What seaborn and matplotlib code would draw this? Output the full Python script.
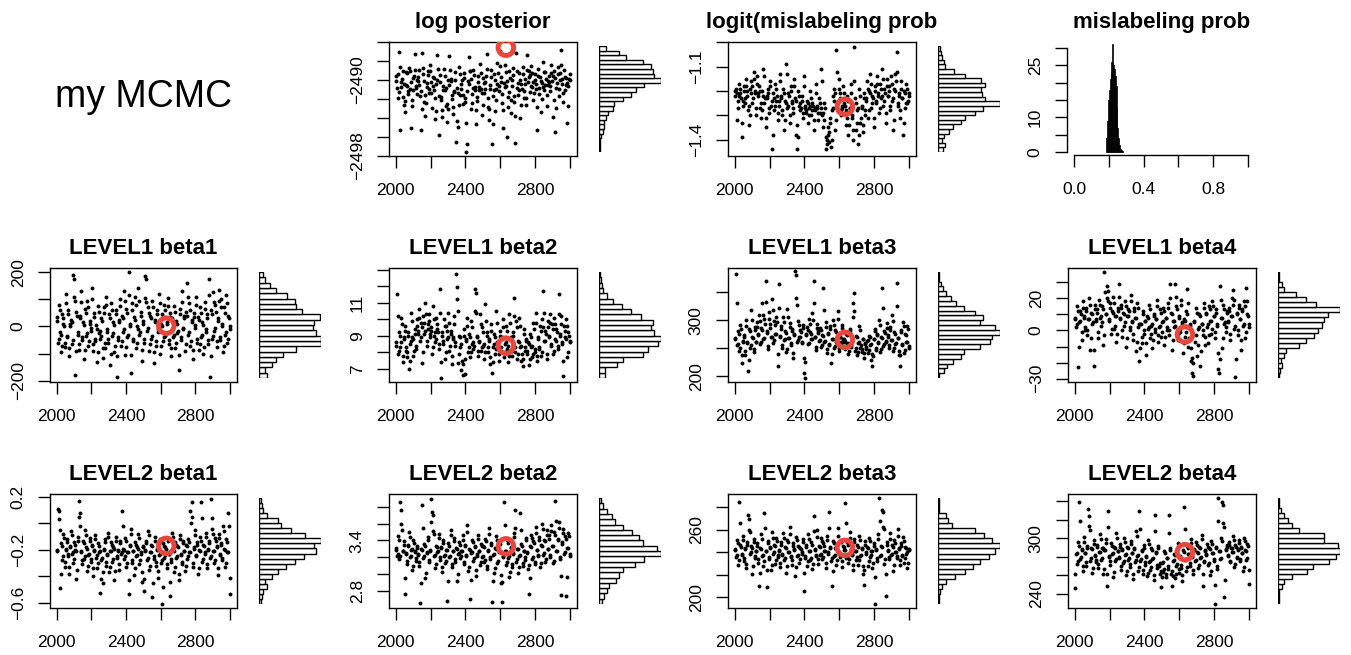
import numpy as np
import matplotlib
matplotlib.use("Agg")
import matplotlib.pyplot as plt
import seaborn as sns

sns.set_theme(style="white")
plt.rcParams['font.family'] = ['Liberation Sans', 'DejaVu Sans']
plt.rcParams.update({'text.color': 'black', 'axes.labelcolor': 'black',
                     'xtick.color': 'black', 'ytick.color': 'black'})

# ---- data (MCMC traces, iterations 2001-3000) ----
# each trace is kept as two thinned halves (a: every ~6th draw, b: the draws in between)
log_post_a = [
    -2489.6, -2490.8, -2491.9, -2487.1, -2495.3, -2490.2, -2489.1, -2492.6, -2493.4, -2490.5,
    -2489.3, -2491.2, -2488.7, -2490.9, -2495.1, -2492.1, -2489.8, -2487.3, -2490.6, -2491.5,
    -2490.1, -2488.9, -2491.7, -2495.3, -2487.2, -2489.4, -2492.3, -2493.8, -2490.7, -2489.0,
    -2491.4, -2488.4, -2490.2, -2492.9, -2489.7, -2491.0, -2494.1, -2490.4, -2487.4, -2495.8,
    -2489.5, -2491.8, -2493.2, -2490.6, -2488.8, -2491.1, -2492.7, -2494.4, -2490.0, -2487.5,
    -2489.9, -2492.0, -2493.6, -2491.3, -2489.2, -2496.5, -2490.8, -2494.9, -2488.6, -2491.6,
    -2490.4, -2492.5, -2489.3, -2491.9, -2497.6, -2496.7, -2490.1, -2487.6, -2489.0, -2493.1,
    -2491.5, -2488.9, -2490.7, -2494.6, -2492.2, -2489.6, -2491.0, -2488.3, -2490.9, -2493.7,
    -2489.8, -2491.4, -2490.2, -2487.3, -2492.8, -2494.2, -2490.5, -2488.9, -2496.7, -2491.7,
    -2489.4, -2493.3, -2490.9, -2488.2, -2491.2, -2486.9, -2489.7, -2492.4, -2495.0, -2490.3,
    -2488.4, -2490.6, -2496.0, -2491.8, -2489.1, -2493.5, -2490.0, -2488.7, -2492.3, -2496.6,
    -2487.2, -2490.8, -2491.6, -2489.3, -2494.0, -2490.4, -2488.6, -2491.9, -2489.9, -2492.6,
    -2487.4, -2490.2, -2489.0, -2491.3, -2488.5, -2490.7, -2492.1, -2489.4, -2490.9, -2495.3,
    -2488.8, -2491.5, -2489.7, -2493.4, -2490.3, -2488.1, -2491.0, -2489.2, -2492.7, -2490.5,
    -2489.6, -2491.2, -2488.4, -2490.1, -2493.9, -2489.0, -2495.5, -2490.8, -2488.6, -2491.7,
    -2489.3, -2486.8, -2490.4, -2492.3, -2488.9, -2491.0, -2489.8, -2494.5, -2490.6, -2489.4,
]
log_post_b = [
    -2490.1, -2489.4, -2491.3, -2488.6, -2490.7, -2489.9, -2491.8, -2490.4, -2492.2, -2489.2,
    -2490.6, -2491.5, -2489.0, -2490.2, -2492.7, -2491.1, -2489.6, -2488.9, -2490.8, -2490.0,
    -2489.7, -2490.5, -2491.2, -2493.1, -2488.7, -2490.1, -2491.6, -2492.4, -2490.3, -2489.5,
    -2490.9, -2489.1, -2491.4, -2490.6, -2489.8, -2491.9, -2493.3, -2490.0, -2488.8, -2491.7,
    -2490.2, -2492.1, -2493.9, -2491.0, -2489.6, -2490.8, -2492.5, -2493.0, -2490.5, -2488.9,
    -2490.1, -2491.6, -2492.8, -2491.2, -2490.0, -2494.3, -2491.4, -2492.6, -2489.4, -2490.9,
    -2490.0, -2491.6, -2489.8, -2492.3, -2494.5, -2491.2, -2490.4, -2489.1, -2489.9, -2492.4,
    -2490.8, -2489.5, -2491.1, -2493.2, -2491.8, -2490.2, -2490.7, -2489.3, -2491.4, -2492.6,
    -2490.3, -2490.9, -2489.6, -2488.8, -2491.9, -2493.0, -2490.9, -2489.7, -2494.6, -2491.1,
    -2490.0, -2492.1, -2490.4, -2489.3, -2490.6, -2488.5, -2490.2, -2491.5, -2493.2, -2490.7,
    -2489.2, -2490.1, -2492.8, -2491.3, -2489.8, -2492.1, -2490.6, -2489.5, -2491.7, -2493.8,
    -2489.0, -2490.3, -2491.0, -2490.0, -2492.6, -2490.9, -2489.4, -2491.2, -2490.4, -2491.9,
    -2488.9, -2489.7, -2489.5, -2490.6, -2489.3, -2490.2, -2491.4, -2490.0, -2490.4, -2492.8,
    -2489.6, -2490.8, -2490.1, -2492.0, -2490.7, -2489.2, -2490.5, -2489.9, -2491.6, -2490.1,
    -2490.2, -2490.6, -2489.3, -2489.6, -2492.1, -2489.8, -2492.9, -2490.3, -2489.4, -2490.9,
    -2490.0, -2488.4, -2489.9, -2491.4, -2489.7, -2490.5, -2490.3, -2492.7, -2489.9, -2490.0,
]
logit_mis_a = [
    -1.22, -1.19, -1.32, -1.24, -1.17, -1.21, -1.39, -1.26, -1.18, -1.23,
    -1.15, -1.20, -1.28, -1.34, -1.19, -1.16, -1.25, -1.12, -1.21, -1.30,
    -1.14, -1.22, -1.18, -1.27, -1.31, -1.20, -1.11, -1.25, -1.35, -1.23,
    -1.19, -1.29, -1.16, -1.26, -1.44, -1.21, -1.28, -1.17, -1.24, -1.32,
    -1.26, -1.13, -1.22, -1.30, -1.19, -1.36, -1.24, -1.09, -1.27, -1.21,
    -1.33, -1.18, -1.25, -1.29, -1.15, -1.23, -1.38, -1.44, -1.20, -1.26,
    -1.28, -1.22, -1.31, -1.14, -1.26, -1.29, -1.24, -1.33, -1.27, -1.20,
    -1.30, -1.25, -1.36, -1.28, -1.17, -1.26, -1.32, -1.23, -1.29, -1.11,
    -1.30, -1.35, -1.25, -1.44, -1.42, -1.38, -1.41, -1.33, -1.43, -1.28,
    -1.22, -1.19, -1.36, -1.03, -1.24, -1.15, -1.21, -1.30, -1.26, -1.18,
    -1.25, -1.29, -1.34, -1.22, -1.38, -1.27, -1.17, -1.31, -1.40, -1.02,
    -1.23, -1.36, -1.28, -1.42, -1.19, -1.33, -1.26, -1.37, -1.21, -1.30,
    -1.24, -1.16, -1.31, -1.20, -1.13, -1.27, -1.22, -1.35, -1.18, -1.25,
    -1.14, -1.21, -1.29, -1.17, -1.23, -1.11, -1.26, -1.19, -1.33, -1.15,
    -1.22, -1.18, -1.28, -1.14, -1.24, -1.36, -1.19, -1.13, -1.04, -1.26,
    -1.21, -1.31, -1.16, -1.23, -1.38, -1.20, -1.27, -1.17, -1.25, -1.21,
]
logit_mis_b = [
    -1.20, -1.21, -1.27, -1.22, -1.19, -1.23, -1.33, -1.24, -1.20, -1.25,
    -1.18, -1.22, -1.26, -1.30, -1.21, -1.18, -1.23, -1.15, -1.20, -1.27,
    -1.17, -1.21, -1.20, -1.25, -1.28, -1.22, -1.14, -1.23, -1.31, -1.22,
    -1.21, -1.27, -1.18, -1.24, -1.38, -1.23, -1.26, -1.19, -1.22, -1.29,
    -1.24, -1.16, -1.23, -1.28, -1.21, -1.32, -1.25, -1.13, -1.26, -1.22,
    -1.30, -1.20, -1.24, -1.27, -1.18, -1.24, -1.34, -1.39, -1.22, -1.25,
    -1.27, -1.24, -1.29, -1.18, -1.27, -1.28, -1.25, -1.30, -1.26, -1.23,
    -1.28, -1.26, -1.32, -1.27, -1.21, -1.27, -1.29, -1.25, -1.27, -1.16,
    -1.29, -1.32, -1.27, -1.39, -1.40, -1.35, -1.37, -1.31, -1.40, -1.27,
    -1.24, -1.21, -1.32, -1.12, -1.25, -1.19, -1.23, -1.28, -1.27, -1.21,
    -1.26, -1.28, -1.31, -1.24, -1.34, -1.27, -1.21, -1.30, -1.36, -1.16,
    -1.25, -1.33, -1.27, -1.38, -1.22, -1.31, -1.27, -1.34, -1.23, -1.28,
    -1.23, -1.19, -1.28, -1.21, -1.17, -1.25, -1.23, -1.31, -1.20, -1.24,
    -1.17, -1.22, -1.27, -1.19, -1.22, -1.15, -1.24, -1.21, -1.29, -1.18,
    -1.22, -1.20, -1.26, -1.17, -1.23, -1.32, -1.20, -1.16, -1.12, -1.25,
    -1.22, -1.28, -1.19, -1.23, -1.33, -1.21, -1.25, -1.19, -1.24, -1.22,
]
l1_beta1_a = [
    35, -60, 80, -20, -95, 45, 10, -75, 120, -40, 60, -110, 0, 25, -65, 190, 175, -178, 55, -30,
    -85, 40, 130, -50, 15, -120, 65, -35, 95, -70, 20, -15, 140, -90, 50, -55, 5, -130, 75, -25,
    -45, 30, -115, 70, -80, 110, -10, -60, 45, -140, 85, -35, 15, -95, 60, -185, -50, 25, 100, -70,
    40, -20, 130, -105, 65, -40, 200, 10, -170, 85, -55, 35, 110, -80, 0, 140, -30, 55, -125, 20,
    -60, 185, 175, -15, 70, -90, 40, -45, 95, -135, 25, -70, 60, -20, 120, -100, 10, 45, -55, 80,
    -35, 15, 105, -65, 50, -110, 30, -40, 75, -80, 20, -25, -160, 65, -50, 130, -10, 40, -90, 55,
    160, -30, 85, -70, 25, -120, 50, -5, 110, -60, 35, -85, 70, -40, 15, -100, 90, -20, 45, -65,
    176, -185, 60, -45, 125, -15, 80, -75, 30, 135, -50, 100, 10, -95, 70, -30, 115, -60, 40, -10,
]
l1_beta1_b = [
    20, -45, 60, -30, -70, 30, 0, -60, 85, -35, 45, -80, 10, 15, -50, 110, 95, -90, 40, -20,
    -65, 30, 90, -40, 5, -85, 50, -25, 70, -55, 10, -5, 100, -65, 35, -45, -10, -95, 55, -15,
    -35, 20, -80, 50, -60, 80, -20, -45, 30, -100, 60, -25, 5, -70, 45, -110, -40, 15, 75, -55,
    30, -10, 95, -75, 50, -30, 115, 0, -105, 60, -45, 25, 80, -60, -10, 95, -20, 40, -85, 10,
    -45, 105, 90, -5, 50, -65, 30, -35, 70, -95, 15, -55, 45, -10, 85, -70, 0, 35, -40, 60,
    -25, 10, 75, -50, 35, -80, 20, -30, 55, -60, 10, -15, -105, 45, -40, 90, -5, 30, -65, 40,
    110, -20, 60, -55, 15, -85, 35, 5, 80, -45, 25, -65, 50, -30, 5, -75, 65, -10, 30, -50,
    115, -110, 45, -35, 90, -5, 55, -55, 20, 95, -40, 70, 0, -70, 50, -20, 85, -45, 30, 0,
]
l1_beta2_a = [
    8.6, 11.5, 7.9, 9.2, 8.3, 10.1, 7.4, 8.8, 9.6, 8.1, 7.7, 9.0, 6.96, 8.5, 10.4, 8.9, 7.8, 9.4, 8.2, 10.0,
    9.3, 10.6, 8.7, 9.8, 7.36, 10.2, 9.1, 11.0, 8.4, 9.7, 10.3, 8.9, 9.5, 7.9, 10.8, 9.0, 8.6, 10.1, 9.4, 8.2,
    11.8, 6.46, 9.2, 8.5, 10.0, 7.6, 9.6, 8.8, 10.4, 8.1, 9.3, 7.3, 8.9, 10.2, 8.4, 12.76, 11.96, 7.36, 9.0, 8.3,
    6.9, 6.6, 9.4, 6.66, 8.7, 10.1, 8.0, 9.1, 7.7, 9.9, 8.5, 8.2, 11.8, 11.6, 9.0, 7.8, 8.6, 10.3, 8.1, 9.5,
    8.4, 7.6, 10.9, 9.2, 8.0, 8.8, 7.3, 9.7, 6.76, 8.3, 9.1, 7.9, 10.5, 8.6, 7.5, 9.3, 8.1, 8.9, 10.0, 7.7,
    8.5, 9.6, 8.2, 7.4, 10.3, 8.9, 7.8, 9.2, 11.3, 8.0, 9.9, 7.6, 8.7, 10.1, 8.3, 7.5, 7.16, 9.4, 8.1, 8.8,
    7.9, 8.6, 7.2, 9.1, 8.3, 7.7, 9.8, 8.0, 10.4, 7.5, 8.9, 8.2, 9.6, 7.8, 10.0, 11.7, 8.7, 9.3, 7.6, 9.9,
    9.0, 10.3, 8.4, 9.7, 7.9, 10.1, 8.8, 9.4, 8.2, 11.5, 9.1, 10.2, 8.5, 6.56, 9.6, 8.9, 10.0, 7.7, 9.2, 8.6,
]
l1_beta2_b = [
    8.4, 10.2, 8.1, 9.0, 8.6, 9.7, 7.8, 8.9, 9.3, 8.3, 8.0, 9.2, 7.5, 8.7, 9.9, 8.8, 8.1, 9.1, 8.4, 9.6,
    9.1, 10.1, 8.9, 9.5, 8.0, 9.8, 9.3, 10.3, 8.7, 9.4, 9.9, 9.1, 9.3, 8.3, 10.0, 9.2, 8.8, 9.7, 9.2, 8.5,
    10.4, 7.4, 9.0, 8.7, 9.6, 8.0, 9.3, 8.9, 9.8, 8.4, 9.1, 7.8, 8.8, 9.7, 8.6, 11.2, 10.5, 7.9, 8.9, 8.5,
    7.5, 7.3, 9.0, 7.6, 8.8, 9.6, 8.3, 8.9, 8.0, 9.5, 8.6, 8.4, 10.5, 10.4, 8.9, 8.1, 8.7, 9.7, 8.3, 9.2,
    8.5, 8.0, 9.9, 9.0, 8.3, 8.7, 7.7, 9.3, 7.4, 8.5, 8.9, 8.2, 9.8, 8.6, 7.9, 9.0, 8.3, 8.8, 9.5, 8.0,
    8.6, 9.3, 8.4, 7.8, 9.8, 8.8, 8.1, 9.0, 10.2, 8.3, 9.5, 7.9, 8.6, 9.6, 8.4, 7.9, 7.6, 9.1, 8.3, 8.7,
    8.1, 8.5, 7.6, 8.9, 8.4, 7.9, 9.4, 8.2, 9.8, 7.8, 8.8, 8.3, 9.3, 8.0, 9.5, 10.4, 8.7, 9.1, 7.9, 9.5,
    8.9, 9.8, 8.5, 9.4, 8.1, 9.7, 8.7, 9.2, 8.4, 10.3, 9.0, 9.7, 8.6, 7.5, 9.3, 8.8, 9.6, 8.0, 9.0, 8.7,
]
l1_beta3_a = [
    268, 383, 255, 281, 246, 292, 224, 262, 274, 238, 300, 259, 209, 285, 251, 318, 270, 243, 288, 261,
    296, 275, 310, 258, 287, 331, 266, 302, 370, 281, 249, 315, 293, 270, 338, 260, 298, 276, 305, 218,
    364, 272, 289, 251, 306, 264, 280, 243, 320, 268, 295, 256, 284, 233, 276, 387, 381, 262, 299, 271,
    283, 260, 291, 206, 197, 275, 288, 257, 302, 279, 266, 312, 370, 270, 247, 293, 281, 263, 286, 252,
    274, 358, 261, 296, 242, 278, 255, 289, 224, 267, 300, 250, 283, 262, 317, 245, 271, 258, 292, 266,
    262, 248, 276, 257, 240, 285, 253, 268, 331, 349, 246, 272, 238, 260, 290, 251, 244, 266, 233, 258,
    249, 263, 241, 272, 256, 230, 218, 267, 285, 247, 276, 259, 300, 243, 270, 358, 254, 281, 262, 295,
    273, 251, 288, 264, 310, 246, 279, 258, 367, 269, 238, 218, 282, 255, 297, 242, 276, 261, 289, 250,
]
l1_beta3_b = [
    266, 330, 258, 276, 250, 284, 238, 263, 271, 245, 290, 261, 230, 280, 255, 301, 268, 248, 283, 262,
    288, 273, 298, 262, 282, 310, 268, 294, 333, 278, 254, 302, 287, 271, 318, 264, 291, 275, 296, 240,
    322, 270, 284, 256, 297, 266, 278, 249, 305, 268, 288, 259, 281, 242, 274, 340, 328, 264, 291, 270,
    279, 262, 286, 232, 226, 273, 283, 260, 294, 276, 267, 300, 330, 270, 252, 287, 278, 265, 282, 256,
    272, 318, 263, 288, 248, 275, 258, 284, 240, 267, 292, 254, 279, 264, 302, 250, 270, 261, 286, 266,
    263, 252, 273, 259, 246, 280, 256, 268, 305, 316, 251, 270, 244, 262, 283, 255, 249, 266, 241, 260,
    253, 264, 247, 270, 258, 240, 236, 267, 280, 251, 273, 261, 291, 248, 269, 322, 257, 278, 263, 287,
    271, 255, 283, 265, 298, 251, 276, 260, 326, 268, 245, 238, 279, 258, 290, 247, 274, 262, 284, 254,
]
l1_beta4_a = [
    8, 2, 15, -23, 5, 12, -6, 18, 9, 0, 14, -3, 7, 20, -12, 11, 4, -22, 16, 6,
    13, -5, 19, 8, 3, 15, -9, 36.5, 10, 27.7, 24.6, 6, 17, -2, 12, 21, 1, 9, -7, 14,
    28.7, 7, 16, -4, 11, 3, 18, -10, 9, 13, 0, 22, 5, -6, 14, 8, -13, 17, 2, -19,
    4, -8, 12, -2, 6, -15, 9, 1, 16, -5, 3, -11, 10, -1, 7, 19, -7, 2, 13, -4,
    5, 14, -9, 8, 0, 17, -3, 28.7, 11, -12, 6, 2, 28.7, 15, -6, 9, -1, 19, 4, -14,
    7, -4, 12, 25.6, -10, 3, -19, -26.5, -28.5, 6, -7, 14, -16, 1, 10, -22, 4, -3, 17, -9,
    11, 2, -8, 15, 6, -2, 18, 9, -5, 13, 3, -24, -26.5, 27.7, 8, -11, 16, 4, -1, 12,
    5, 14, -6, 9, 20, 25.2, 1, -29, 11, -3, 16, 7, -12, 13, 3, 18, -5, 26.3, 10, 2,
]
l1_beta4_b = [
    7, 4, 12, -10, 6, 10, -1, 14, 8, 2, 12, 0, 7, 16, -5, 10, 5, -12, 13, 7,
    11, -1, 16, 9, 5, 13, -3, 24, 10, 20, 18, 7, 14, 1, 11, 17, 3, 9, -2, 12,
    21, 8, 14, 0, 10, 5, 15, -5, 9, 12, 2, 18, 6, -2, 12, 8, -7, 14, 4, -11,
    4, -4, 10, 0, 6, -8, 8, 2, 13, -2, 4, -6, 9, 1, 7, 15, -3, 3, 11, -1,
    6, 12, -4, 8, 2, 14, 0, 20, 10, -6, 6, 3, 21, 13, -2, 8, 1, 16, 5, -8,
    6, -1, 10, 17, -5, 4, -11, -17, -20, 5, -3, 11, -9, 2, 9, -13, 4, 0, 14, -4,
    10, 4, -3, 13, 6, 1, 15, 9, -1, 11, 4, -14, -18, 19, 8, -5, 13, 5, 2, 11,
    6, 12, -2, 9, 16, 19, 3, -18, 10, 0, 14, 7, -6, 12, 4, 15, -1, 18, 9, 4,
]
l2_beta1_a = [
    -0.21, 0.11, 0.095, -0.49, -0.15, -0.28, -0.08, -0.33, -0.19, -0.12, -0.25, -0.38, -0.17, -0.06, -0.23, -0.30, -0.14, -0.20, -0.42, -0.10,
    0.17, 0.08, -0.22, -0.31, -0.13, -0.27, -0.05, -0.18, -0.36, -0.24, -0.11, -0.29, -0.16, -0.40, -0.20, -0.09, -0.26, -0.34, -0.15, -0.22,
    -0.525, -0.28, -0.45, -0.19, -0.12, -0.32, -0.24, -0.07, -0.37, -0.21, -0.14, -0.29, -0.18, -0.43, -0.10, -0.26, -0.20, -0.35, -0.13, -0.23,
    0.09, -0.19, -0.27, -0.11, -0.33, -0.22, -0.53, -0.16, -0.04, -0.30, -0.21, -0.39, -0.14, -0.25, -0.18, -0.08, -0.31, -0.23, -0.44, -0.17,
    -0.51, -0.20, -0.13, -0.28, -0.06, -0.35, -0.22, -0.16, -0.555, -0.27, -0.10, -0.32, -0.19, -0.41, -0.24, -0.12, -0.30, -0.61, -0.15, -0.26,
    -0.18, -0.34, -0.11, -0.23, -0.55, -0.29, -0.07, -0.20, -0.37, -0.14, -0.26, -0.17, -0.43, -0.09, -0.24, -0.31, -0.13, -0.21, -0.36, -0.16,
    -0.27, -0.12, -0.22, 0.09, 0.16, -0.33, -0.18, -0.05, -0.25, -0.14, -0.38, -0.20, -0.10, 0.16, -0.29, -0.16, -0.23, -0.07, -0.34, -0.19,
    -0.13, -0.26, 0.18, -0.04, -0.21, -0.30, -0.11, -0.17, -0.39, -0.08, -0.24, -0.15, -0.28, -0.02, -0.19, -0.33, -0.12, -0.22, 0.08, -0.53,
]
l2_beta1_b = [
    -0.20, 0.03, -0.05, -0.38, -0.17, -0.25, -0.11, -0.29, -0.20, -0.14, -0.23, -0.33, -0.18, -0.09, -0.22, -0.27, -0.16, -0.21, -0.35, -0.13,
    0.05, -0.02, -0.21, -0.28, -0.15, -0.25, -0.09, -0.19, -0.32, -0.23, -0.13, -0.27, -0.17, -0.34, -0.21, -0.12, -0.24, -0.30, -0.17, -0.21,
    -0.42, -0.26, -0.37, -0.20, -0.14, -0.29, -0.23, -0.10, -0.33, -0.21, -0.16, -0.27, -0.19, -0.36, -0.13, -0.25, -0.21, -0.31, -0.15, -0.22,
    -0.02, -0.20, -0.25, -0.13, -0.30, -0.22, -0.43, -0.17, -0.08, -0.28, -0.21, -0.34, -0.16, -0.24, -0.19, -0.11, -0.28, -0.22, -0.37, -0.18,
    -0.42, -0.21, -0.15, -0.26, -0.09, -0.32, -0.22, -0.17, -0.45, -0.25, -0.13, -0.29, -0.20, -0.36, -0.23, -0.14, -0.28, -0.48, -0.17, -0.24,
    -0.19, -0.31, -0.13, -0.23, -0.44, -0.27, -0.10, -0.21, -0.33, -0.16, -0.25, -0.18, -0.38, -0.12, -0.23, -0.29, -0.15, -0.21, -0.32, -0.17,
    -0.25, -0.14, -0.22, 0.00, 0.05, -0.30, -0.19, -0.09, -0.24, -0.16, -0.34, -0.21, -0.13, 0.04, -0.27, -0.17, -0.22, -0.10, -0.31, -0.20,
    -0.15, -0.25, 0.04, -0.08, -0.21, -0.28, -0.13, -0.18, -0.34, -0.11, -0.23, -0.16, -0.26, -0.06, -0.20, -0.30, -0.14, -0.22, -0.02, -0.41,
]
l2_beta2_a = [
    3.31, 3.22, 3.45, 3.18, 3.85, 3.76, 3.27, 3.39, 2.76, 3.24, 3.12, 3.35, 3.50, 3.20, 3.29, 3.05, 3.41, 3.26, 3.16, 3.33,
    3.23, 3.10, 2.66, 3.30, 3.82, 3.19, 3.36, 2.95, 3.25, 3.44, 3.14, 3.28, 3.89, 3.74, 3.70, 3.21, 3.07, 3.34, 3.26, 3.48,
    3.17, 3.32, 3.03, 3.40, 3.22, 3.13, 3.29, 2.68, 3.37, 3.20, 3.52, 3.09, 3.27, 3.43, 3.15, 3.31, 2.92, 3.24, 3.38, 3.19,
    3.28, 3.46, 3.12, 3.35, 3.21, 3.58, 3.04, 3.30, 2.71, 3.25, 3.41, 3.16, 3.33, 2.98, 3.22, 3.47, 3.27, 3.11, 3.36, 3.20,
    3.34, 3.14, 3.42, 3.06, 3.29, 3.55, 3.18, 3.37, 2.67, 3.23, 3.01, 3.31, 3.45, 3.13, 3.26, 3.39, 2.90, 2.67, 3.20, 3.85,
    3.27, 3.11, 3.40, 3.19, 2.97, 3.32, 3.08, 3.24, 3.49, 3.76, 3.15, 3.30, 3.02, 3.21, 3.73, 3.36, 3.10, 3.28, 3.17, 3.43,
    3.25, 3.06, 2.76, 3.33, 3.47, 3.18, 3.39, 3.12, 3.56, 3.29, 3.21, 3.44, 3.09, 3.35, 3.60, 3.23, 3.41, 3.15, 3.52, 3.30,
    3.46, 3.20, 3.58, 3.34, 3.13, 3.50, 3.87, 3.27, 3.42, 3.62, 3.18, 2.75, 3.38, 3.54, 3.24, 3.45, 2.74, 3.31, 3.49, 3.22,
]
l2_beta2_b = [
    3.29, 3.24, 3.40, 3.21, 3.60, 3.52, 3.28, 3.35, 2.95, 3.25, 3.16, 3.33, 3.44, 3.22, 3.30, 3.10, 3.37, 3.27, 3.19, 3.31,
    3.24, 3.14, 2.90, 3.29, 3.55, 3.21, 3.34, 3.02, 3.26, 3.40, 3.17, 3.29, 3.62, 3.51, 3.48, 3.23, 3.12, 3.32, 3.27, 3.43,
    3.20, 3.31, 3.08, 3.37, 3.23, 3.16, 3.29, 2.92, 3.34, 3.22, 3.46, 3.12, 3.28, 3.39, 3.18, 3.30, 3.00, 3.25, 3.35, 3.21,
    3.28, 3.41, 3.15, 3.33, 3.23, 3.50, 3.09, 3.29, 2.93, 3.26, 3.38, 3.19, 3.32, 3.05, 3.24, 3.42, 3.27, 3.14, 3.34, 3.22,
    3.32, 3.17, 3.39, 3.10, 3.28, 3.48, 3.20, 3.35, 2.92, 3.24, 3.07, 3.30, 3.41, 3.16, 3.27, 3.36, 2.99, 2.91, 3.22, 3.58,
    3.28, 3.14, 3.37, 3.21, 3.03, 3.31, 3.12, 3.25, 3.44, 3.55, 3.18, 3.30, 3.08, 3.23, 3.52, 3.34, 3.13, 3.28, 3.20, 3.40,
    3.26, 3.11, 2.96, 3.32, 3.43, 3.20, 3.37, 3.15, 3.49, 3.29, 3.23, 3.41, 3.13, 3.34, 3.53, 3.25, 3.39, 3.18, 3.47, 3.30,
    3.42, 3.23, 3.51, 3.33, 3.16, 3.46, 3.63, 3.28, 3.40, 3.55, 3.20, 2.98, 3.36, 3.49, 3.26, 3.42, 2.97, 3.31, 3.45, 3.24,
]
l2_beta3_a = [
    243, 236, 251, 229, 284.6, 247, 238, 255, 232, 244, 226, 249, 273, 270, 239, 246, 221, 252, 235, 241,
    248, 231, 210, 244, 256, 237, 228, 275, 241, 209, 250, 234, 245, 224, 258, 239, 247, 230, 253, 236,
    242, 227, 249, 238, 257, 233, 245, 222, 251, 240, 263, 236, 229, 248, 243, 219, 254, 237, 246, 231,
    244, 239, 252, 206, 235, 247, 228, 256, 241, 233, 249, 225, 272, 243, 237, 260, 230, 246, 238, 253,
    234, 248, 241, 226, 255, 239, 276, 245, 232, 210, 250, 237, 244, 229, 262, 240, 236, 251, 227, 246,
    242, 283.7, 235, 249, 231, 258, 243, 238, 224, 252, 241, 233, 247, 229, 255, 237, 244, 221, 211, 250,
    239, 245, 228, 253, 236, 241, 226, 248, 194, 243, 232, 256, 288, 237, 246, 278, 276, 230, 201, 249,
    242, 234, 257, 238, 247, 223, 251, 240, 235, 261, 244, 229, 248, 237, 254, 231, 245, 239, 226, 243,
]
l2_beta3_b = [
    242, 238, 248, 233, 266, 245, 239, 251, 235, 243, 230, 247, 260, 258, 240, 244, 228, 249, 237, 241,
    246, 234, 222, 243, 252, 238, 232, 262, 241, 224, 248, 236, 244, 229, 253, 240, 246, 233, 250, 238,
    241, 231, 247, 239, 253, 235, 244, 228, 249, 240, 256, 237, 233, 246, 242, 227, 251, 238, 245, 234,
    243, 240, 249, 222, 237, 245, 232, 252, 241, 235, 247, 230, 259, 242, 238, 254, 234, 245, 239, 250,
    236, 246, 241, 231, 251, 240, 262, 244, 235, 223, 248, 238, 243, 233, 255, 240, 238, 249, 232, 245,
    242, 266, 237, 247, 234, 253, 242, 239, 229, 249, 241, 236, 245, 233, 251, 238, 243, 228, 224, 247,
    240, 244, 232, 250, 238, 241, 231, 246, 218, 242, 235, 252, 268, 238, 245, 263, 261, 234, 221, 247,
    241, 236, 252, 239, 245, 229, 248, 240, 237, 255, 243, 233, 246, 238, 250, 235, 244, 240, 231, 242,
]
l2_beta4_a = [
    247, 283, 272, 296, 339, 278, 288, 265, 301, 284, 270, 292, 331, 324, 276, 289, 263, 298, 281, 274,
    293, 268, 285, 304, 277, 290, 262, 287, 299, 249, 329, 280, 271, 295, 283, 258, 291, 275, 306, 286,
    279, 294, 266, 288, 273, 300, 282, 260, 291, 277, 269, 297, 284, 256, 289, 274, 308, 281, 265, 329,
    276, 287, 262, 293, 271, 280, 259, 298, 274, 266, 289, 278, 255, 325, 285, 268, 292, 270, 261, 247.5,
    273, 264, 286, 258, 279, 267, 325, 290, 261, 249, 276, 283, 257, 270, 295, 263, 281, 268, 254, 287,
    333, 277, 265, 292, 283, 270, 299, 280, 262, 288, 275, 296, 285, 268, 291, 279, 303, 249, 274, 287,
    282, 294, 271, 289, 260, 297, 284, 276, 229.6, 291, 267, 343, 286, 278, 300, 339, 336, 237, 288, 293,
    281, 296, 274, 290, 285, 302, 269, 293, 279, 288, 298, 276, 291, 284, 265, 300, 287, 277, 294, 251,
]
l2_beta4_b = [
    262, 284, 276, 292, 318, 280, 287, 270, 296, 284, 274, 290, 313, 309, 279, 288, 268, 294, 282, 277,
    291, 272, 285, 299, 279, 289, 267, 287, 295, 262, 312, 281, 275, 292, 284, 264, 290, 278, 300, 286,
    280, 291, 270, 287, 276, 296, 283, 265, 289, 279, 272, 294, 284, 262, 288, 277, 302, 282, 269, 310,
    278, 286, 266, 290, 274, 281, 263, 294, 276, 269, 287, 279, 260, 308, 284, 271, 289, 273, 265, 258,
    274, 267, 284, 262, 279, 270, 306, 287, 265, 259, 277, 282, 262, 272, 291, 267, 280, 271, 260, 285,
    310, 278, 269, 290, 283, 273, 295, 281, 266, 287, 277, 293, 284, 271, 289, 280, 299, 262, 276, 286,
    283, 291, 273, 288, 265, 294, 284, 278, 250, 289, 270, 318, 286, 279, 297, 316, 312, 255, 287, 291,
    282, 293, 276, 289, 285, 298, 272, 291, 280, 287, 295, 278, 290, 284, 269, 297, 286, 279, 292, 266,
]

# marginal histogram bar lengths, listed top bar first
lp_hist = [20, 60, 80, 130, 155, 160, 165, 185, 135, 110, 95, 70, 45, 40, 25, 20, 15, 13, 10, 5, 3, 1, 1]
lg_hist = [4, 7, 10, 17, 20, 47, 80, 127, 137, 127, 130, 137, 182, 132, 107, 80, 67, 44, 32, 17, 12, 20, 14]
b11_hist = [12, 17, 32, 52, 84, 107, 112, 130, 184, 167, 162, 172, 187, 187, 112, 72, 52, 37, 17, 22]
b12_hist = [3, 5, 8, 12, 22, 42, 68, 97, 127, 162, 157, 167, 187, 177, 147, 132, 72, 54, 17, 17]
b13_hist = [1, 1, 7, 14, 22, 37, 52, 77, 107, 132, 122, 167, 182, 157, 152, 122, 77, 67, 42, 27, 17, 2]
b14_hist = [1, 1, 12, 17, 52, 82, 112, 184, 147, 137, 130, 117, 107, 82, 62, 22, 17, 7, 10, 5, 2]
b21_hist = [4, 7, 12, 22, 57, 67, 97, 137, 187, 167, 172, 134, 107, 80, 57, 37, 17, 22, 12, 7, 4]
b22_hist = [6, 12, 22, 39, 49, 74, 99, 122, 134, 176, 189, 136, 109, 74, 59, 52, 29, 22, 14, 9]
b23_hist = [1, 1, 2, 22, 27, 40, 107, 134, 157, 180, 164, 147, 122, 102, 77, 50, 22, 12, 5, 1, 1]
b24_hist = [1, 1, 7, 17, 30, 42, 62, 137, 137, 177, 184, 172, 152, 102, 87, 42, 17, 12, 2, 1, 1]

# mislabeling probability: density histogram
mp_edges = [0.185, 0.19, 0.195, 0.2, 0.205, 0.21, 0.215, 0.22, 0.225, 0.23, 0.235,
            0.24, 0.245, 0.25, 0.255, 0.26, 0.265, 0.27, 0.275, 0.28]
mp_density = [4, 9, 15, 18, 21, 23, 26, 31, 25, 24, 22, 19, 13, 7, 4, 2, 1, 0.6, 0.3]

# highlighted sample
mark_iter = 2632
mark_vals = [-2486.6, -1.265, 3, 8.4, 265, -2.5, -0.17, 3.33, 244, 285]

x_ticks = [2000, 2200, 2400, 2600, 2800, 3000]
x_labels = ['2000', '', '2400', '', '2800', '']

M = '\u2212'
panels = [
    ("log posterior", log_post_a, log_post_b, lp_hist, (-2498.0, -2486.0),
     [-2498, -2496, -2494, -2492, -2490, -2488, -2486], [M + '2498', '', '', '', M + '2490', '', ''], 0, 1),
    ("logit(mislabeling prob", logit_mis_a, logit_mis_b, lg_hist, (-1.468, -0.998),
     [-1.4, -1.3, -1.2, -1.1, -1.0], [M + '1.4', '', '', M + '1.1', ''], 0, 2),
    ("LEVEL1 beta1", l1_beta1_a, l1_beta1_b, b11_hist, (-204, 215),
     [-200, -100, 0, 100, 200], [M + '200', '', '0', '', '200'], 1, 0),
    ("LEVEL1 beta2", l1_beta2_a, l1_beta2_b, b12_hist, (6.2, 13.1),
     [7, 8, 9, 10, 11, 12, 13], ['7', '', '9', '', '11', '', ''], 1, 1),
    ("LEVEL1 beta3", l1_beta3_a, l1_beta3_b, b13_hist, (190, 393),
     [200, 250, 300, 350], ['200', '', '300', ''], 1, 2),
    ("LEVEL1 beta4", l1_beta4_a, l1_beta4_b, b14_hist, (-32, 38.7),
     [-30, -20, -10, 0, 10, 20, 30], [M + '30', '', '', '0', '', '20', ''], 1, 3),
    ("LEVEL2 beta1", l2_beta1_a, l2_beta1_b, b21_hist, (-0.6375, 0.22),
     [-0.6, -0.4, -0.2, 0.0, 0.2], [M + '0.6', '', M + '0.2', '', '0.2'], 2, 0),
    ("LEVEL2 beta2", l2_beta2_a, l2_beta2_b, b22_hist, (2.60, 3.95),
     [2.8, 3.0, 3.2, 3.4, 3.6, 3.8], ['2.8', '', '', '3.4', '', ''], 2, 1),
    ("LEVEL2 beta3", l2_beta3_a, l2_beta3_b, b23_hist, (190.5, 292),
     [200, 220, 240, 260, 280], ['200', '', '', '260', ''], 2, 2),
    ("LEVEL2 beta4", l2_beta4_a, l2_beta4_b, b24_hist, (225, 347.5),
     [240, 260, 280, 300, 320, 340], ['240', '', '', '300', '', ''], 2, 3),
]

# ---- layout (pixels) ----
W, H = 1351, 655
row_tb = [(42, 156), (268, 382), (494, 608)]
col_lr = [(50, 237), (389, 577), (728, 916), (1068, 1256)]
RED = '#E8473D'

fig = plt.figure(figsize=(W / 100, H / 100), dpi=100)


def px_axes(l, t, r, b):
    return fig.add_axes([l / W, 1 - b / H, (r - l) / W, (b - t) / H])


def style_axes(ax, title):
    ax.set_title(title, fontsize=16, fontweight='bold', pad=10, color='black')
    ax.tick_params(direction='out', length=8.5, width=1, colors='black',
                   labelsize=12.5, left=True, bottom=True)
    ax.tick_params(axis='x', pad=11)
    ax.tick_params(axis='y', pad=9)
    for lab in ax.get_yticklabels():
        lab.set_rotation(90)
        lab.set_va('center')
    ax.set_xlabel('')
    ax.set_ylabel('')


for (title, va, vb, hist, ylim, yt, ytl, r, c), mval in zip(panels, mark_vals):
    t, b = row_tb[r]
    l, rr = col_lr[c]
    ax = px_axes(l, t, rr, b)
    iters = np.concatenate([np.linspace(2001, 2997, len(va)), np.linspace(2004, 3000, len(vb))])
    vals = np.concatenate([va, vb])
    sns.scatterplot(x=iters, y=vals, ax=ax, s=8, color='black', linewidth=0, legend=False)
    ax.scatter([mark_iter], [mval], s=125, facecolors='none', edgecolors=RED, linewidths=3.6, zorder=5)
    ax.set_xlim(1961, 3040)
    ax.set_ylim(*ylim)
    ax.set_xticks(x_ticks)
    ax.set_xticklabels(x_labels)
    ax.set_yticks(yt)
    ax.set_yticklabels(ytl)
    for sp in ax.spines.values():
        sp.set_visible(True)
        sp.set_color('black')
        sp.set_linewidth(1)
    style_axes(ax, title)

    # marginal histogram
    axh = px_axes(rr + 22, t + 4, rr + 84, b - 4)
    n = len(hist)
    sns.histplot(y=np.arange(n)[::-1], weights=hist, discrete=True, shrink=1, ax=axh,
                 color='white', edgecolor='black', linewidth=1.0, alpha=1)
    axh.set_xlim(-1, max(hist))
    axh.set_ylim(-0.5, n - 0.5)
    axh.axis('off')

# mislabeling prob histogram
axm = px_axes(1067, 42, 1256, 155)
centers = [(a + b) / 2 for a, b in zip(mp_edges[:-1], mp_edges[1:])]
sns.histplot(x=centers, weights=mp_density, bins=mp_edges, ax=axm,
             color='black', edgecolor='black', linewidth=0.5, alpha=1)
axm.set_xlim(-0.04, 1.046)
axm.set_ylim(-0.87, 31.7)
axm.set_xticks([0, 0.2, 0.4, 0.6, 0.8, 1.0])
axm.set_xticklabels(['0.0', '', '0.4', '', '0.8', ''])
axm.set_yticks([0, 5, 10, 15, 20, 25, 30])
axm.set_yticklabels(['0', '', '10', '', '', '25', ''])
axm.spines['top'].set_visible(False)
axm.spines['right'].set_visible(False)
for side in ('left', 'bottom'):
    axm.spines[side].set_visible(True)
    axm.spines[side].set_color('black')
    axm.spines[side].set_linewidth(1)
axm.spines['left'].set_bounds(0, 30)
axm.spines['bottom'].set_bounds(0, 1)
style_axes(axm, "mislabeling prob")

fig.text(55 / W, 1 - 97 / H, "my MCMC", fontsize=27, va='center', ha='left', color='black')

fig.savefig("out.png", dpi=100)
